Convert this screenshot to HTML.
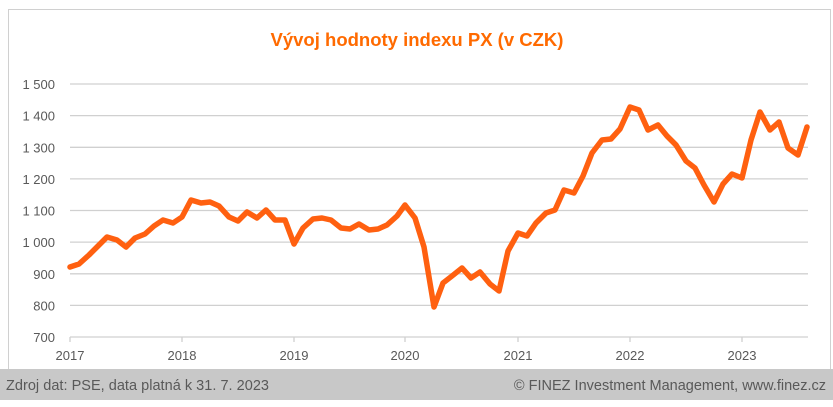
<!DOCTYPE html>
<html><head><meta charset="utf-8"><style>
body{margin:0;background:#fff;width:833px;height:407px;overflow:hidden;font-family:"Liberation Sans",sans-serif}
</style></head><body>
<svg width="833" height="407" xmlns="http://www.w3.org/2000/svg" style="position:absolute;left:0;top:0">
<rect x="8.5" y="9.5" width="822" height="360" fill="#fff" stroke="#d0d0d0"/>
<text x="417" y="46" text-anchor="middle" font-size="18.5" font-weight="bold" fill="#ff6a00" font-family="Liberation Sans, sans-serif">Vývoj hodnoty indexu PX (v CZK)</text>
<g stroke="#d0d0d0" stroke-width="1.3">
<line x1="70" y1="84" x2="808" y2="84"/><line x1="70" y1="115.6" x2="808" y2="115.6"/><line x1="70" y1="147.3" x2="808" y2="147.3"/><line x1="70" y1="178.9" x2="808" y2="178.9"/><line x1="70" y1="210.5" x2="808" y2="210.5"/><line x1="70" y1="242.1" x2="808" y2="242.1"/><line x1="70" y1="273.8" x2="808" y2="273.8"/><line x1="70" y1="305.4" x2="808" y2="305.4"/><line x1="70" y1="337" x2="808" y2="337"/>
<line x1="70" y1="337" x2="70" y2="342"/><line x1="182" y1="337" x2="182" y2="342"/><line x1="294" y1="337" x2="294" y2="342"/><line x1="405" y1="337" x2="405" y2="342"/><line x1="518" y1="337" x2="518" y2="342"/><line x1="630" y1="337" x2="630" y2="342"/><line x1="742" y1="337" x2="742" y2="342"/>
</g>
<g font-size="13" fill="#595959" text-anchor="end" font-family="Liberation Sans, sans-serif">
<text x="55" y="89">1 500</text><text x="55" y="120.6">1 400</text><text x="55" y="152.3">1 300</text><text x="55" y="183.9">1 200</text><text x="55" y="215.5">1 100</text><text x="55" y="247.1">1 000</text><text x="55" y="278.8">900</text><text x="55" y="310.4">800</text><text x="55" y="342">700</text>
</g>
<g font-size="13" fill="#595959" text-anchor="middle" font-family="Liberation Sans, sans-serif">
<text x="70" y="360">2017</text><text x="182" y="360">2018</text><text x="294" y="360">2019</text><text x="405" y="360">2020</text><text x="518" y="360">2021</text><text x="630" y="360">2022</text><text x="742" y="360">2023</text>
</g>
<polyline fill="none" stroke="#ff6010" stroke-width="5.5" stroke-linejoin="round" stroke-linecap="round" points="70,267 79,264 89,255 98,246 107,237 117,240 126,247 135,238 145,234 154,226 163,220 173,223 182,217 191,200 201,203 210,202 219,206 229,217 238,221 247,212 257,218 266,210 275,220 285,220 294,244 303,228 313,219 322,218 331,220 341,228 350,229 359,224 369,230 378,229 387,225 397,216 405,205 415,218 424,247 434,307 443,283 452,276 462,268 471,278 480,272 490,284 499,291 508,251 518,233 527,236 536,223 546,213 555,210 564,190 574,193 583,176 592,153 602,140 611,139 620,129 630,107 639,110 648,130 658,125 667,136 676,145 686,161 695,168 704,185 714,202 723,184 732,174 742,178 751,140 760,112 770,130 779,122 788,148 798,155 807,127"/>
<rect x="0" y="369" width="833" height="31" fill="#c8c8c8"/>
<text x="6" y="390" font-size="14.5" fill="#595959" font-family="Liberation Sans, sans-serif" textLength="263">Zdroj dat: PSE, data platná k 31. 7. 2023</text>
<text x="826" y="390" font-size="14.5" fill="#595959" text-anchor="end" font-family="Liberation Sans, sans-serif">© FINEZ Investment Management, www.finez.cz</text>
</svg>
</body></html>
